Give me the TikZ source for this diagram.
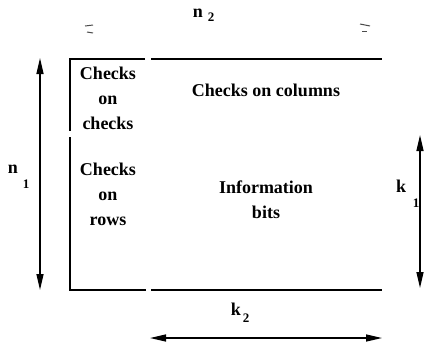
\documentclass[tikz,border=0pt]{standalone}
\usepackage{fontspec}
\setmainfont{Liberation Serif}
\usetikzlibrary{arrows.meta}
\begin{document}
\begin{tikzpicture}[x=1pt,y=-1pt,
  edge/.style={line width=1.6pt},
  dim/.style={line width=1.4pt,{Triangle[length=16pt,width=7pt]}-{Triangle[length=16pt,width=7pt]}},
  txt/.style={font=\fontsize{18}{25}\selectfont\bfseries, align=center, inner sep=0pt},
  lab/.style={font=\fontsize{18}{20}\selectfont\bfseries, inner sep=0pt},
  sub/.style={font=\fontsize{13}{15}\selectfont\bfseries, inner sep=0pt},
  tick/.style={line width=1pt, black!70}]
\useasboundingbox (0,0) rectangle (425,349);
% frame corners and gaps
\coordinate (tl) at (70,59);
\coordinate (tr) at (382,59);
\coordinate (bl) at (70,290);
\coordinate (br) at (382,290);
\coordinate (tg1) at (145,59);
\coordinate (tg2) at (151,59);
\coordinate (bg1) at (146,290);
\coordinate (bg2) at (151,290);
\coordinate (lg1) at (70,131);
\coordinate (lg2) at (70,137);
\draw[edge] (tg1) -- (tl) -- (lg1);
\draw[edge] (lg2) -- (bl) -- (bg1);
\draw[edge] (bg2) -- (br);
\draw[edge] (tg2) -- (tr);
% texts
\node[txt] (cc) at (108,98) {Checks\\on\\checks};
\node[txt] (cr) at (108,194) {Checks\\on\\rows};
\node[txt] (ccol) at (266,90) {Checks on columns};
\node[txt] (info) at (266,200) {Information\\bits};
% dimension arrows
\coordinate (n1a) at (40,58);
\coordinate (n1b) at (40,290);
\draw[dim] (n1a) -- (n1b);
\coordinate (k1a) at (420,135);
\coordinate (k1b) at (420,288);
\draw[dim] (k1a) -- (k1b);
\coordinate (k2a) at (150,338);
\coordinate (k2b) at (382,338);
\draw[dim] (k2a) -- (k2b);
% labels
\node[lab] (n2) at (198,13) {n};
\node[sub] (n2s) at (211,17) {2};
\node[lab] (n1) at (13,169) {n};
\node[sub] (n1s) at (26,184) {1};
\node[lab] (k1) at (401,186) {k};
\node[sub] (k1s) at (416,203) {1};
\node[lab] (k2) at (236,309) {k};
\node[sub] (k2s) at (246,318) {2};
% faint marks at top
\coordinate (m1a) at (85,26); \coordinate (m1b) at (93,25);
\coordinate (m2a) at (87,32); \coordinate (m2b) at (93,33);
\coordinate (m3a) at (360,24); \coordinate (m3b) at (370,26);
\coordinate (m4a) at (362,31); \coordinate (m4b) at (367,31);
\draw[tick] (m1a) -- (m1b);
\draw[tick] (m2a) -- (m2b);
\draw[tick] (m3a) -- (m3b);
\draw[tick] (m4a) -- (m4b);
\end{tikzpicture}
\end{document}
